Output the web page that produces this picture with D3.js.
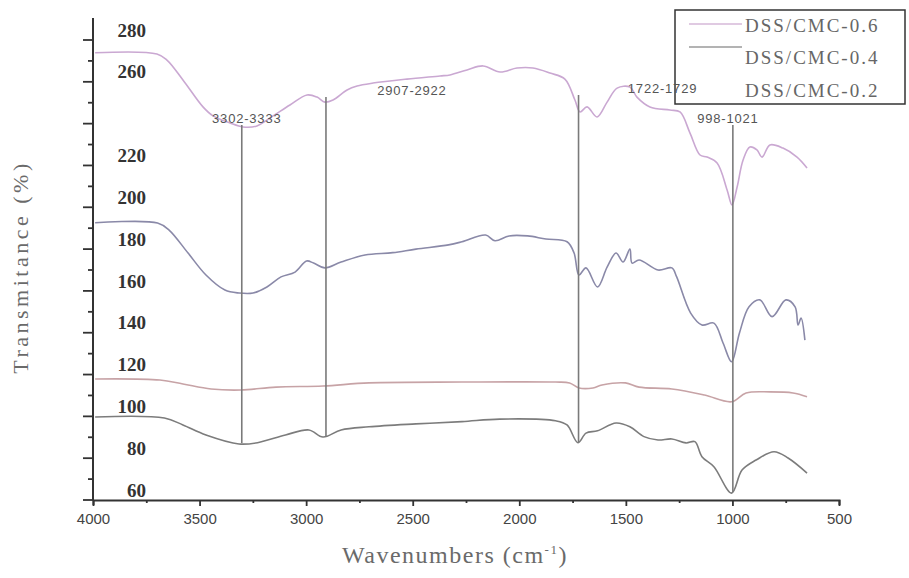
<!DOCTYPE html>
<html>
<head>
<meta charset="utf-8">
<script src="https://cdn.jsdelivr.net/npm/d3@7"></script>
<style>
  body { margin: 0; background: #fff; }
  svg { display: block; }
</style>
</head>
<body>
<div id="chart"></div>
<script>
// values (wavenumber cm-1, transmittance %)
const wn06 = [3990,3700,3653,3578,3484,3437,3357,3296,3231,3155,3076,2996,2949,2912,2874,2808,2761,2686,2527,2372,2325,2245,2170,2090,2011,1936,1856,1786,1739,1715,1682,1635,1588,1541,1481,1448,1387,1293,1246,1199,1152,1119,1072,1025,1002,978,950,918,885,861,824,763,697,650];
const t06 = [273.9,273.3,270.4,260.9,248.0,243.7,240.3,238.4,238.9,243.7,248.9,253.7,252.7,250.3,251.3,256.1,258.0,259.4,261.3,262.8,263.3,265.7,267.6,264.7,266.6,266.6,264.2,261.3,251.3,245.6,248.0,243.2,250.3,257.0,257.5,252.7,248.0,246.5,245.6,235.5,225.0,224.0,221.2,208.3,201.1,209.7,222.6,228.8,227.4,224.0,229.8,228.3,224.0,218.8];

const wn04 = [3990,3697,3643,3554,3470,3381,3315,3249,3184,3118,3052,2998,2965,2912,2836,2724,2594,2485,2332,2269,2158,2114,2048,1961,1875,1776,1743,1720,1687,1633,1588,1546,1513,1481,1471,1438,1349,1284,1262,1196,1143,1087,1044,1004,967,922,871,814,749,706,692,678,660];
const t04 = [192.6,192.5,189.1,178.1,167.6,160.4,159.0,159.0,161.9,166.7,169.0,174.3,173.3,171.0,173.8,177.2,178.3,180.0,182.0,183.5,186.7,184.0,186.3,186.3,184.8,183.5,178.1,167.6,171.0,161.9,171.4,178.1,173.8,180.0,173.3,174.8,170.0,171.0,166.8,149.4,143.7,144.6,135.1,126.1,139.9,152.4,155.7,147.7,155.7,152.4,143.7,147.0,136.5];

const wnFlat = [3990,3686,3578,3446,3306,3141,2921,2705,2269,1830,1764,1720,1654,1612,1502,1438,1284,1131,1004,936,824,716,650];
const tFlat = [117.9,117.4,115.5,113.1,112.6,114.0,114.5,116.0,116.4,116.4,116.0,113.6,113.6,115.0,116.0,114.0,113.1,110.2,107.0,111.2,111.7,111.2,109.4];

const wn02 = [3990,3665,3578,3470,3315,3228,3097,2987,2921,2836,2705,2485,2269,2092,1830,1776,1725,1687,1633,1546,1481,1415,1349,1284,1218,1176,1143,1087,1004,955,889,805,739,650];
const t02 = [99.7,99.2,95.9,91.1,86.8,87.4,91.1,93.5,90.1,93.5,95.0,96.4,97.5,98.7,97.9,95.9,87.4,92.0,93.1,96.8,95.0,90.3,88.7,89.2,87.3,87.9,80.7,75.9,63.3,74.3,79.1,83.1,80.1,72.9];

// marked peaks
const peakWn = [3302, 2907, 1722, 998];
const peakLabels = ["3302-3333", "2907-2922", "1722-1729", "998-1021"];
const peakTop = [239.4, 252.7, 253.7, 239.4];
const peakBottom = [87.3, 90.1, 87.7, 63.8];

const xTicks = [4000, 3500, 3000, 2500, 2000, 1500, 1000, 500];
const yTickLabels = [280, 260, 220, 200, 180, 160, 140, 120, 100, 80, 60];
const legendNames = ["DSS/CMC-0.6", "DSS/CMC-0.4", "DSS/CMC-0.2"];

const width = 909, height = 578;
const margin = {top: 18, left: 93, right: 70, bottom: 78};

const svg = d3.select("#chart").append("svg")
  .attr("width", width)
  .attr("height", height);

const x = d3.scaleLinear().domain([4000, 500]).range([margin.left, 839]);
const y = d3.scaleLinear().domain([60, 280]).range([500, 40]);

// curves
const line = d3.line()
  .x(d => x(d[0]))
  .y(d => y(d[1]))
  .curve(d3.curveCatmullRom.alpha(0.5));

const series = [
  {wn: wn02, t: t02, color: "#7c7c7c"},
  {wn: wnFlat, t: tFlat, color: "#c7a3a6"},
  {wn: wn04, t: t04, color: "#8a89a8"},
  {wn: wn06, t: t06, color: "#caa8d2"}
];

series.forEach(s => {
  svg.append("path")
    .datum(s.wn.map((w, i) => [w, s.t[i]]))
    .attr("fill", "none")
    .attr("stroke", s.color)
    .attr("stroke-width", 1.6)
    .attr("d", line);
});

// peak marker lines
peakWn.forEach((w, i) => {
  svg.append("line")
    .attr("x1", x(w)).attr("x2", x(w))
    .attr("y1", y(peakTop[i])).attr("y2", y(peakBottom[i]))
    .attr("stroke", "#7a7a7a")
    .attr("stroke-width", 1.6);
});

// y axis
const yAxisG = svg.append("g");
yAxisG.append("line")
  .attr("x1", margin.left).attr("x2", margin.left)
  .attr("y1", margin.top).attr("y2", 500)
  .attr("stroke", "#333").attr("stroke-width", 2);

d3.range(60, 281, 10).forEach(v => {
  const major = v % 20 === 0;
  yAxisG.append("line")
    .attr("x1", margin.left - (major ? 10 : 5)).attr("x2", margin.left)
    .attr("y1", y(v)).attr("y2", y(v))
    .attr("stroke", "#333").attr("stroke-width", 1.8);
});

yAxisG.selectAll("text.ylab")
  .data(yTickLabels)
  .join("text")
  .attr("class", "ylab")
  .attr("x", 146)
  .attr("y", d => y(d) - 10)
  .attr("dy", "0.35em")
  .attr("text-anchor", "end")
  .style("font-family", "'Liberation Serif', 'Times New Roman', serif")
  .style("font-size", "19px")
  .style("font-weight", "bold")
  .style("fill", "#333")
  .text(d => d);

// x axis
const xAxis = d3.axisBottom(x)
  .tickValues(d3.range(4000, 499, -250))
  .tickSize(5)
  .tickFormat(d => xTicks.includes(d) ? d : "");

const xAxisG = svg.append("g")
  .attr("transform", "translate(0,500)")
  .call(xAxis);

xAxisG.select(".domain").attr("stroke", "#333").attr("stroke-width", 2);
xAxisG.selectAll(".tick line")
  .attr("stroke", "#333")
  .attr("stroke-width", 1.8)
  .attr("y2", d => xTicks.includes(d) ? 6 : 3);
xAxisG.selectAll(".tick text")
  .attr("y", 13)
  .style("font-family", "Arial, 'Liberation Sans', sans-serif")
  .style("font-size", "15px")
  .style("fill", "#444");

// axis titles
svg.append("text")
  .attr("x", 455)
  .attr("y", 563)
  .attr("text-anchor", "middle")
  .style("font-family", "'Liberation Serif', 'Times New Roman', serif")
  .style("font-size", "24px")
  .style("fill", "#6a6a6a")
  .style("letter-spacing", "1.5px")
  .html("Wavenumbers (cm<tspan dy='-9' font-size='13px'>-1</tspan><tspan dy='9'>)</tspan>");

svg.append("text")
  .attr("transform", "translate(28,267) rotate(-90)")
  .attr("text-anchor", "middle")
  .style("font-family", "'Liberation Serif', 'Times New Roman', serif")
  .style("font-size", "22px")
  .style("fill", "#6a6a6a")
  .style("letter-spacing", "3.5px")
  .text("Transmitance (%)");

// legend
const legend = svg.append("g");
legend.append("rect")
  .attr("x", 675).attr("y", 10)
  .attr("width", 230).attr("height", 94)
  .attr("fill", "#fff")
  .attr("stroke", "#333")
  .attr("stroke-width", 1.5);

const legendColors = ["#d6b8d8", "#9a9a9a", null];
const legendLineY = [24, 47];
const legendTextY = [32, 64, 97];

legendNames.forEach((name, i) => {
  if (legendColors[i]) {
    legend.append("line")
      .attr("x1", 689).attr("x2", 742)
      .attr("y1", legendLineY[i]).attr("y2", legendLineY[i])
      .attr("stroke", legendColors[i])
      .attr("stroke-width", 1.5);
  }
  legend.append("text")
    .attr("x", 745)
    .attr("y", legendTextY[i])
    .style("font-family", "'Liberation Serif', 'Times New Roman', serif")
    .style("font-size", "19px")
    .style("letter-spacing", "2px")
    .style("fill", "#666")
    .text(name);
});

// peak labels drawn last so they sit over the legend frame
const dx = [5, 86, 84, -5];
peakWn.forEach((w, i) => {
  svg.append("text")
    .attr("x", x(w) + dx[i])
    .attr("y", y(peakTop[i]) - 2)
    .attr("text-anchor", "middle")
    .style("font-family", "Arial, 'Liberation Sans', sans-serif")
    .style("font-size", "13px")
    .style("letter-spacing", "0.8px")
    .style("fill", "#555")
    .text(peakLabels[i]);
});
</script>
</body>
</html>
